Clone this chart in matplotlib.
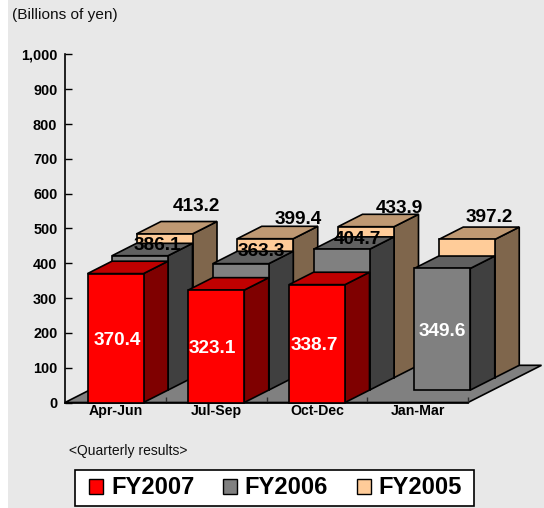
import matplotlib
matplotlib.use("Agg")
import matplotlib.pyplot as plt
from matplotlib.patches import Polygon, Patch, Rectangle

plt.rcParams["font.family"] = ["Liberation Sans", "DejaVu Sans"]

W, H = 544, 508
quarters = ["Apr-Jun", "Jul-Sep", "Oct-Dec", "Jan-Mar"]
fy2007 = [370.4, 323.1, 338.7, None]
fy2006 = [386.1, 363.3, 404.7, 349.6]
fy2005 = [413.2, 399.4, 433.9, 397.2]
yticks = [0, 100, 200, 300, 400, 500, 600, 700, 800, 900, 1000]
ylabels = ["0", "100", "200", "300", "400", "500", "600", "700", "800", "900", "1,000"]

styles = {
    "FY2005": ("#ffcc99", "#bf9973", "#7f664c"),
    "FY2006": ("#808080", "#606060", "#404040"),
    "FY2007": ("#ff0000", "#bf0000", "#7f0000"),
}

# label nudges in pixels relative to the bar's front-face centre / top
nudge_2005 = [(32, 29), (32.5, 21), (33.5, 20), (23, 24)]
nudge_2006 = [(17, 12.5), (20.5, 14), (16, 12), None]
nudge_2007 = [(2, 0), (-4, 0), (-3, 0), None]

fig = plt.figure(figsize=(W / 100, H / 100), dpi=100, facecolor="white")
fig.add_artist(Rectangle((8 / W, 0), 1, 1, transform=fig.transFigure, fc="#e8e8e8", ec="none", zorder=-10))

L, R, B, T = 65, 468, 402.5, 54.5
ax = fig.add_axes([L / W, 1 - B / H, (R - L) / W, (B - T) / H])
ax.patch.set_visible(False)
ax.set_xlim(0, 4)
ax.set_ylim(0, 1000)
px_x = (R - L) / 4
px_y = (B - T) / 1000

row_dx = 24.5 / px_x
row_dy = 12.4 / px_y
bar_w = 56 / px_x
bar_off = 22.5 / px_x


def poly(pts, fc, z):
    ax.add_patch(Polygon(pts, closed=True, fc=fc, ec="black", lw=1.2, zorder=z, clip_on=False, joinstyle="miter"))


poly([(0, 0), (4, 0), (4 + 3 * row_dx, 3 * row_dy), (3 * row_dx, 3 * row_dy)], "#808080", 1)


def draw_bars(values, row, key):
    front, top, side = styles[key]
    base_z = 10 + (2 - row) * 10
    for i, v in enumerate(values):
        if v is None:
            continue
        x0 = i + bar_off + row * row_dx
        x1 = x0 + bar_w
        y0 = row * row_dy
        y1 = y0 + v
        z = base_z + i
        poly([(x1, y0), (x1 + row_dx, y0 + row_dy), (x1 + row_dx, y1 + row_dy), (x1, y1)], side, z)
        poly([(x0, y1), (x1, y1), (x1 + row_dx, y1 + row_dy), (x0 + row_dx, y1 + row_dy)], top, z)
        poly([(x0, y0), (x1, y0), (x1, y1), (x0, y1)], front, z)


draw_bars(fy2005, 2, "FY2005")
draw_bars(fy2006, 1, "FY2006")
draw_bars(fy2007, 0, "FY2007")


def label(i, v, row, nudge, color, mid):
    xc = i + bar_off + row * row_dx + bar_w / 2
    y0 = row * row_dy
    yc = y0 + v / 2 if mid else y0 + v
    ax.annotate(f"{v:.1f}", (xc, yc), xytext=(nudge[0] * 0.72, nudge[1] * 0.72), textcoords="offset points",
                ha="center", va="center_baseline", color=color, fontsize=13.7, fontweight="bold",
                zorder=100, annotation_clip=False)


for i, v in enumerate(fy2005):
    label(i, v, 2, nudge_2005[i], "black", False)
for i, v in enumerate(fy2006):
    if nudge_2006[i] is None:
        label(i, v, 1, (0, 0), "white", True)
    else:
        label(i, v, 1, nudge_2006[i], "black", False)
for i, v in enumerate(fy2007):
    if v is not None:
        label(i, v, 0, nudge_2007[i], "white", True)

for s in ("top", "right"):
    ax.spines[s].set_visible(False)
for s in ("left", "bottom"):
    ax.spines[s].set_linewidth(1.2)
    ax.spines[s].set_zorder(5)
ax.set_yticks(yticks, ylabels, fontweight="bold", fontsize=10.4)
ax.tick_params(axis="y", direction="in", length=5, width=1.0, pad=5.5, left=True, zorder=5)
ax.set_xticks(range(1, 5), [""] * 4)
ax.tick_params(axis="x", which="major", direction="in", length=4.5, width=1.0, color="#303030")
ax.set_xticks([i + 0.5 for i in range(4)], quarters, minor=True, fontweight="bold", fontsize=10.2)
ax.tick_params(axis="x", which="minor", length=0, pad=1)

fig.text(12 / W, 1 - 15 / H, "(Billions of yen)", fontsize=11.1, ha="left", va="center", color="#101010")
fig.text(69 / W, 1 - 451 / H, "<Quarterly results>", fontsize=10, ha="left", va="center", color="#101010")

fig.add_artist(Rectangle((75 / W, 1 - 506 / H), 399 / W, 36 / H, transform=fig.transFigure,
                         fc="white", ec="black", lw=1.2, zorder=3))
handles = [Patch(fc=styles[k][0], ec="black", lw=1.0) for k in ("FY2007", "FY2006", "FY2005")]
leg = fig.legend(handles, ["FY2007", "FY2006", "FY2005"], ncol=3, loc="center",
                 bbox_to_anchor=(275.5 / W, 1 - 488 / H), frameon=False,
                 prop={"weight": "bold", "size": 17.1}, handlelength=0.6, handleheight=0.6,
                 handletextpad=0.33, columnspacing=1.2, borderpad=0, borderaxespad=0)
leg.set_zorder(4)

fig.savefig("out.png", dpi=100, facecolor=fig.get_facecolor())
